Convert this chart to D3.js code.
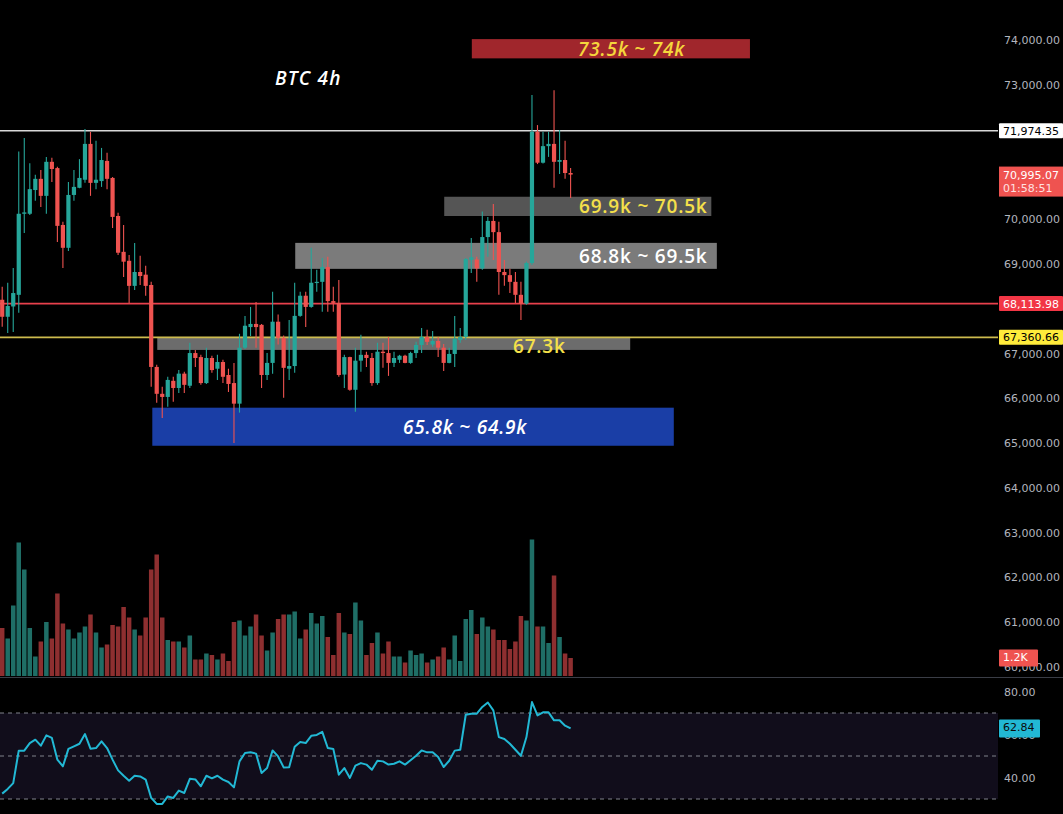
<!DOCTYPE html>
<html><head><meta charset="utf-8">
<script src="https://cdn.jsdelivr.net/npm/d3@7"></script>
<style>
html,body{margin:0;padding:0;background:#000;}
svg{display:block;}
</style></head><body>
<svg id="c" width="1063" height="814"></svg>
<script>
// ---------- DATA ----------
const open = [68200,67820,68050,68310,70120,70120,70650,70900,70520,71280,
71140,69870,69360,70540,70700,70880,71680,70810,70850,71300,
70920,70070,69270,69070,68510,68820,68760,68530,66700,66100,
66030,66390,66230,66550,66280,67010,66920,66340,66900,66660,
66810,66520,66340,65880,67130,67590,67660,67640,66520,66790,
67710,67350,66660,66720,67840,68290,68040,68580,68600,68930,
68170,68130,66530,66920,66190,66840,66970,66900,66340,67040,
67010,66790,66860,66950,66790,67010,67190,67370,67200,67280,
67130,66790,66990,67300,67370,69090,69100,68900,69600,69960,
69710,68820,68750,68600,68310,68110,69020,71950,71260,71630,
71680,71280,71320,71030];
const high = [68490,68580,68910,71510,71810,71250,70990,71100,71390,71370,
71170,69940,70830,71100,71340,72010,71950,71750,71590,71480,
70940,70140,69870,69200,69470,69180,68960,68600,66750,66260,
66480,66480,66630,66590,67240,67080,66970,67130,66950,66970,
66860,66660,66790,67440,67840,68040,68150,67660,67010,68380,
67870,67400,67750,68580,68380,68380,69360,68870,69130,69160,
68490,68640,66970,66930,67130,67420,67040,67010,67240,67240,
67370,67040,66970,66970,67040,67260,67570,67530,67500,67370,
67210,67130,67840,67570,69130,69580,69160,70170,70050,70340,
69940,69090,68890,68820,68600,69050,72770,72100,71950,71950,
72880,71990,71750,71140];
const low = [67600,67460,67480,67910,69690,70090,70410,70270,70120,70830,
69490,68910,69290,70410,70690,70810,70520,70670,70720,70670,
69800,69200,68710,68130,68420,68530,68290,66260,65900,65560,
65810,65920,66120,66120,66230,66700,66300,66320,66570,66410,
66340,66140,65000,65680,67100,67390,67130,66230,66410,66550,
67200,66010,66410,66570,67820,67590,68020,68380,67930,67930,
67930,66480,66230,66170,65700,66590,66700,66280,66300,66680,
66500,66700,66790,66780,66770,66900,67010,67190,67150,66920,
66610,66780,66700,67240,67300,68800,68600,68870,69160,69090,
68310,68510,68350,68130,67750,68090,68980,71230,71240,71390,
70700,71010,70900,70470];
const close = [67820,68060,68350,70120,70150,70670,70900,70520,71280,71120,
69850,69360,70540,70720,70920,71680,70810,70880,71320,70900,
70050,69250,69050,68510,68820,68730,68510,66700,66100,66030,
66410,66230,66550,66300,67010,66900,66340,66900,66630,66810,
66480,66320,65880,67130,67620,67660,67590,66520,66790,67710,
67350,66680,66720,67840,68290,68040,68580,68600,68930,68170,
68130,66520,66920,66190,66840,66970,66900,66340,67040,67010,
66790,66900,66950,66790,67010,67190,67370,67260,67280,67130,
66790,66990,67330,67370,69110,69150,68900,69600,69960,69710,
68820,68750,68600,68310,68110,69020,71950,71260,71630,71680,
71280,71320,71030,70995.07];
// volume, thousands (K)
const volume = [3.2,2.5,4.7,8.9,7.1,3.2,1.3,2.3,3.6,2.5,
5.5,3.5,3.1,2.5,2.9,3.3,4.1,2.9,1.9,2.1,
3.4,3.3,4.6,3.9,3.1,2.7,3.9,7.1,8.1,3.9,
2.4,2.3,2.3,1.9,2.7,1.1,1.1,1.5,1.4,1.1,
1.5,1.0,3.6,3.7,2.7,3.3,4.1,2.7,1.7,2.9,
3.8,4.1,4.1,4.3,2.5,3.1,4.2,3.5,4.0,2.6,
1.4,4.2,2.9,2.8,4.9,3.7,1.4,2.2,2.9,1.5,
2.3,1.3,1.3,0.9,1.7,1.4,1.5,0.9,1.1,1.3,
1.9,1.1,2.7,1.0,3.8,4.4,2.8,3.9,3.3,3.1,
2.4,2.4,1.8,2.3,4.0,3.7,9.1,3.3,3.3,2.2,
6.7,2.6,1.5,1.2];
const rsi = [32.5,34.7,37.4,52.5,52.5,56,57.6,54.8,59.6,58.4,
48.3,45.2,53.3,54.5,55.7,60.2,53.4,53.7,56.8,53.7,
48.3,43.3,40.8,38.5,40.8,40.5,39,30.5,27.7,27.7,
31.2,30.5,33.9,32.8,39.4,39.1,35.9,40.8,39.6,40.8,
39,37.9,35.4,47.5,51.4,51.7,51.1,42.1,44.4,52.6,
49.8,44.7,44.8,54.3,56.5,56,59.4,59.8,61.2,53.7,
53.3,41.3,44.4,39.8,45.5,46.7,46,43.6,47.8,47.5,
46,46.4,47.5,46,48,50.1,52.6,51.7,51.7,49.5,
44.9,47.8,52.5,52.9,69.2,69.7,69.7,72.8,74.9,71.2,
58.8,57.9,55.7,52.9,50.1,58.8,75.1,68.9,70.3,70.3,
66.6,66.6,64.1,62.84];

// tick labels (those fully covered by price tags in the original are omitted)
const priceTicks = [60000,61000,62000,63000,64000,65000,66000,67000,69000,70000,73000,74000,75000];
const rsiTicks = [40,60,80];
const rsiLevels = [70,50,30];

const levelPrices = [71974.35, 68113.98, 67360.66];
const lastPrice = 70995.07;
const countdown = "01:58:51";
const lastVolumeLabel = "1.2K";
const lastRsi = 62.84;

const zoneLabels = ["73.5k ~ 74k","69.9k ~ 70.5k","68.8k ~ 69.5k","67.3k","65.8k ~ 64.9k"];
const zoneHi = [74020,70500,69470,67370,65790];
const zoneLo = [73590,70070,68890,67080,64940];
const zoneFrom = [85.1,80.1,53.1,28.1,27.2];
const zoneTo = [135.5,128.5,129.5,113.8,121.7];
const title = "BTC 4h";

// ---------- STYLE / LAYOUT ----------
const W = 1063, H = 814, plotRight = 998;
const UP = "#26a69a", DOWN = "#ef5350";
const VUP = "#1f6e66", VDOWN = "#8e2f30";
const zoneStyle = [
  {fill:"#a0262c", color:"#f5d63c", italic:true,  tx:578, dy:0},
  {fill:"#555555", color:"#f5e04a", italic:false, tx:579, dy:0},
  {fill:"#7b7b7b", color:"#ffffff", italic:false, tx:579, dy:0},
  {fill:"#6c6c6c", color:"#f5e04a", italic:false, tx:513, dy:3},
  {fill:"#1a3ea6", color:"#ffffff", italic:true,  tx:403, dy:0}
];
const levelStyle = [
  {line:"#d9d9d9", bg:"#ffffff", fg:"#000000"},
  {line:"#e8404c", bg:"#f23645", fg:"#ffffff"},
  {line:"#cdbb4e", bg:"#ffeb3b", fg:"#000000"}
];

const svg = d3.select("#c");
svg.append("rect").attr("width",W).attr("height",H).attr("fill","#000");

const n = close.length;
const x = d3.scaleLinear().domain([0, n-1]).range([2.2, 570.6]);
const y = d3.scaleLinear().domain([60000, 74000]).range([667, 40]);
const yVol = d3.scaleLinear().domain([0, 10]).range([676, 526]);
const yRsi = d3.scaleLinear().domain([30, 70]).range([799, 713]);

const idx = d3.range(n);

// zones
const zg = svg.append("g");
zoneLabels.forEach((lab,k)=>{
  const st = zoneStyle[k];
  const y0 = y(zoneHi[k]), y1 = y(zoneLo[k]);
  zg.append("rect").attr("x", x(zoneFrom[k])).attr("y", y0)
    .attr("width", x(zoneTo[k]) - x(zoneFrom[k])).attr("height", y1 - y0)
    .attr("fill", st.fill);
});

// level lines
const lg = svg.append("g");
levelPrices.forEach((p,k)=>{
  lg.append("line").attr("x1",0).attr("x2",plotRight)
    .attr("y1",y(p)).attr("y2",y(p))
    .attr("stroke",levelStyle[k].line).attr("stroke-width",1.6);
});

// volume bars
svg.append("g").selectAll("rect").data(idx).join("rect")
  .attr("x", i=>x(i)-2.25).attr("width",4.5)
  .attr("y", i=>yVol(volume[i])).attr("height", i=>yVol(0)-yVol(volume[i]))
  .attr("fill", i=> close[i]>=open[i] ? VUP : VDOWN);

// candles
const cg = svg.append("g");
cg.selectAll("line").data(idx).join("line")
  .attr("x1", i=>x(i)).attr("x2", i=>x(i))
  .attr("y1", i=>y(high[i])).attr("y2", i=>y(low[i]))
  .attr("stroke", i=> close[i]>=open[i] ? UP : DOWN).attr("stroke-width",1.1);
cg.selectAll("rect").data(idx).join("rect")
  .attr("x", i=>x(i)-2.1).attr("width",4.2)
  .attr("y", i=>y(Math.max(open[i],close[i])))
  .attr("height", i=>Math.max(1.2, Math.abs(y(open[i])-y(close[i]))))
  .attr("fill", i=> close[i]>=open[i] ? UP : DOWN);

// zone labels
zoneLabels.forEach((lab,k)=>{
  const st = zoneStyle[k];
  const yc = (y(zoneHi[k]) + y(zoneLo[k]))/2;
  svg.append("text").attr("x", st.tx).attr("y", yc + 7 + st.dy)
    .attr("fill", st.color)
    .attr("font-family","'Open Sans', sans-serif")
    .attr("font-weight",600)
    .attr("font-style", st.italic ? "italic" : "normal")
    .attr("font-size",19).attr("letter-spacing",0.8)
    .text(lab);
});

// title
svg.append("text").attr("x",275).attr("y",85)
  .attr("fill","#ffffff").attr("font-family","'Open Sans', sans-serif")
  .attr("font-weight",600).attr("font-style","italic")
  .attr("font-size",19).attr("letter-spacing",1.2).text(title);

// separator
svg.append("line").attr("x1",0).attr("x2",W).attr("y1",677.5).attr("y2",677.5)
  .attr("stroke","#3a3d46").attr("stroke-width",1);

// RSI pane
svg.append("rect").attr("x",0).attr("width",plotRight)
  .attr("y", yRsi(70)).attr("height", yRsi(30)-yRsi(70)).attr("fill","#110d1b");
svg.append("g").selectAll("line").data(rsiLevels).join("line")
  .attr("x1",0).attr("x2",plotRight)
  .attr("y1",d=>yRsi(d)).attr("y2",d=>yRsi(d))
  .attr("stroke","#80838c").attr("stroke-width",1).attr("stroke-dasharray","4,4");
svg.append("path").datum(idx)
  .attr("d", d3.line().x(i=>x(i)).y(i=>yRsi(rsi[i])))
  .attr("fill","none").attr("stroke","#22b8d4").attr("stroke-width",2).attr("stroke-linejoin","round");

// price axis
const axFont = "'DejaVu Sans', sans-serif";
const pa = svg.append("g").attr("transform",`translate(${plotRight+2},0)`)
  .call(d3.axisRight(y).tickValues(priceTicks).tickFormat(d3.format(",.2f")).tickSize(0).tickPadding(4));
pa.select(".domain").remove();
pa.selectAll("text").attr("fill","#b2b5be").attr("font-family",axFont).attr("font-size",11);

const ra = svg.append("g").attr("transform",`translate(${plotRight+2},0)`)
  .call(d3.axisRight(yRsi).tickValues(rsiTicks).tickFormat(d3.format(".2f")).tickSize(0).tickPadding(4));
ra.select(".domain").remove();
ra.selectAll("text").attr("fill","#b2b5be").attr("font-family",axFont).attr("font-size",11);

// tags
function tag(yc, h, w, bg, lines, fgs){
  const g = svg.append("g");
  g.append("rect").attr("x",plotRight+1).attr("y",yc-h/2).attr("width",w).attr("height",h)
    .attr("fill",bg).attr("rx",1);
  lines.forEach((t,j)=>{
    g.append("text").attr("x",plotRight+5).attr("y", yc - h/2 + 11.5 + j*12.5)
      .attr("fill",fgs[j]).attr("font-family",axFont).attr("font-size",11).text(t);
  });
}
const fmt = d3.format(",.2f");
levelPrices.forEach((p,k)=>{
  tag(y(p), 15, 64, levelStyle[k].bg, [fmt(p)], [levelStyle[k].fg]);
});
{
  const yc = y(lastPrice);
  const g = svg.append("g");
  g.append("rect").attr("x",plotRight+1).attr("y",yc-8).attr("width",64).attr("height",30).attr("fill","#ef5350");
  g.append("text").attr("x",plotRight+5).attr("y",yc+4).attr("fill","#fff").attr("font-family",axFont).attr("font-size",11).text(fmt(lastPrice));
  g.append("text").attr("x",plotRight+5).attr("y",yc+17).attr("fill","#ffe0e0").attr("font-family",axFont).attr("font-size",11).text(countdown);
}
tag(yVol(volume[n-1]), 17, 39, "#ef5350", [lastVolumeLabel], ["#ffffff"]);
tag(yRsi(lastRsi), 18, 41, "#22b8d4", [d3.format(".2f")(lastRsi)], ["#0b0b0b"]);
</script>
</body></html>
